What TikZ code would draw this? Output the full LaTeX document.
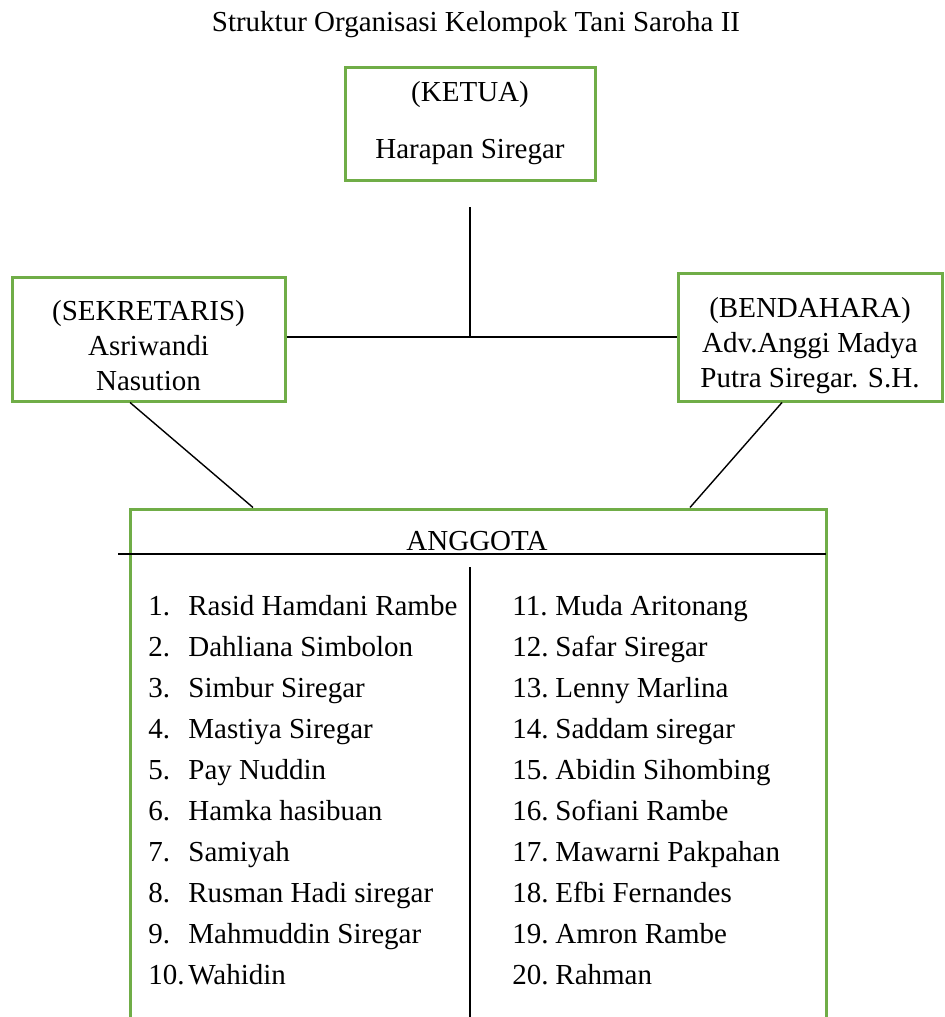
\documentclass[tikz,border=0pt]{standalone}
\usepackage{fontspec}
\setmainfont{Liberation Serif}
\usetikzlibrary{positioning}

\definecolor{boxgreen}{RGB}{112,173,71}
\tikzset{
  orgbox/.style={draw=boxgreen, line width=1.5pt, align=center, inner sep=0pt},
  member/.style={anchor=base west, inner sep=0pt},
  link/.style={line width=0.7pt}
}

\begin{document}
\begin{tikzpicture}[x=0.5pt, y=-0.5pt,
  every node/.style={font=\fontsize{14.5pt}{17.5pt}\selectfont}]
  \useasboundingbox (0,0) rectangle (945,1017);
  \clip (0,0) rectangle (945,1017);

  % Nodes
  \node (title) at (476,25) {Struktur Organisasi Kelompok Tani Saroha II};
  \node[orgbox, minimum width=125pt, minimum height=56.5pt] (ketua) at (470,123.5)
    {(KETUA)\\[11pt]Harapan Siregar};
  \node[orgbox, minimum width=136.5pt, minimum height=62pt] (sek) at (148.5,339)
    {\rule{0pt}{17pt}(SEKRETARIS)\\Asriwandi\\Nasution};
  \node[orgbox, minimum width=132pt, minimum height=64pt] (bend) at (810,337)
    {\rule{0pt}{19pt}(BENDAHARA)\\Adv.Anggi Madya\\Putra Siregar. S.H.};
  \node[orgbox, minimum width=348pt, minimum height=270pt] (anggota) at (478,779) {};
  \node (judul) at (477,541) {ANGGOTA};

  \coordinate (stem) at (470,207);
  \coordinate (hub) at (470,337);
  \coordinate (rule l) at (118,554);
  \coordinate (rule r) at (826,554);
  \coordinate (div top) at (470,567);
  \coordinate (div bot) at (470,1017);

  % Members
  \foreach \name [count=\i] in {Rasid Hamdani Rambe, Dahliana Simbolon,
      Simbur Siregar, Mastiya Siregar, Pay Nuddin, Hamka hasibuan, Samiyah,
      Rusman Hadi siregar, Mahmuddin Siregar, Wahidin} {
    \node[member] (num\i) at (148,{615+41*(\i-1)}) {\i.};
    \node[member] (nm\i) at (188,{615+41*(\i-1)}) {\name};
  }
  \foreach \name [count=\i from 11] in {Muda Aritonang, Safar Siregar,
      Lenny Marlina, Saddam siregar, Abidin Sihombing, Sofiani Rambe,
      Mawarni Pakpahan, Efbi Fernandes, Amron Rambe, Rahman} {
    \node[member] (num\i) at (512,{615+41*(\i-11)}) {\i.};
    \node[member] (nm\i) at (555,{615+41*(\i-11)}) {\name};
  }

  % Edges
  \draw[link] (stem) -- (hub);
  \draw[link] (sek.east |- hub) -- (bend.west |- hub);
  \draw[link] ([xshift=-9.25pt]sek.south) -- ([xshift=-112.5pt]anggota.north);
  \draw[link] ([xshift=-14pt]bend.south) -- ([xshift=106pt]anggota.north);
  \draw[link] (rule l) -- (rule r);
  \draw[link] (div top) -- (div bot);

\end{tikzpicture}
\end{document}
